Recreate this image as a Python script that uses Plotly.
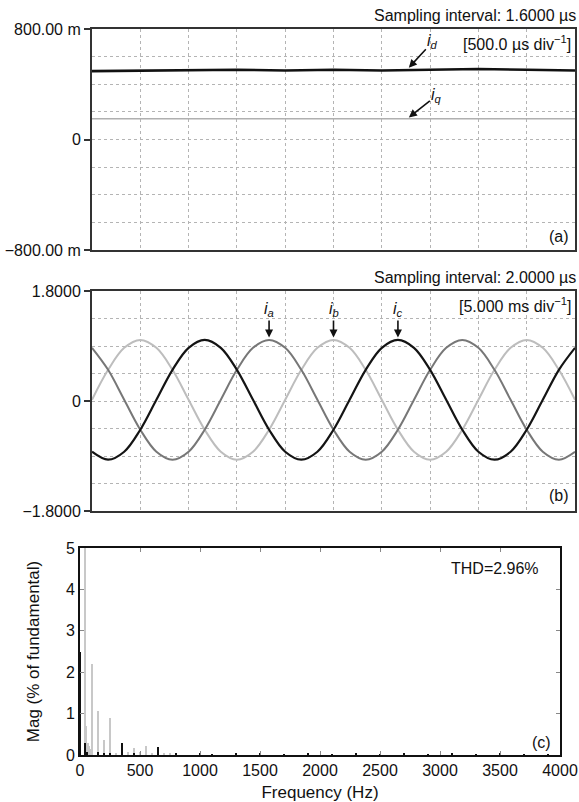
import plotly.graph_objects as go

W, H = 579, 802

# ---------------- data ----------------
# Panel (a): dq currents (A), 500 us/div, 10 divisions (time in ms)
t_a_ms = [0.0, 0.5, 1.0, 1.5, 2.0, 2.5, 3.0, 3.5, 4.0, 4.5, 5.0]
i_d = [0.495, 0.50, 0.50, 0.505, 0.50, 0.505, 0.50, 0.505, 0.51, 0.505, 0.50]
i_q = [0.15, 0.15, 0.145, 0.15, 0.145, 0.15, 0.15, 0.145, 0.145, 0.15, 0.15]

# Panel (b): phase currents (A), 5 ms/div, sampled every 1/3 div
t_b_ms = [round(k * 50 / 30, 4) for k in range(31)]
i_a = [0.87, 0.51, 0.02, -0.47, -0.83, -0.96, -0.83, -0.47, 0.02, 0.51, 0.87, 1.00,
       0.87, 0.51, 0.02, -0.47, -0.83, -0.96, -0.83, -0.47, 0.02, 0.51, 0.87, 1.00,
       0.87, 0.51, 0.02, -0.47, -0.83, -0.96, -0.83]
i_b = [0.02, 0.51, 0.87, 1.00, 0.87, 0.51, 0.02, -0.47, -0.83, -0.96, -0.83, -0.47,
       0.02, 0.51, 0.87, 1.00, 0.87, 0.51, 0.02, -0.47, -0.83, -0.96, -0.83, -0.47,
       0.02, 0.51, 0.87, 1.00, 0.87, 0.51, 0.02]
i_c = [-0.83, -0.96, -0.83, -0.47, 0.02, 0.51, 0.87, 1.00, 0.87, 0.51, 0.02, -0.47,
       -0.83, -0.96, -0.83, -0.47, 0.02, 0.51, 0.87, 1.00, 0.87, 0.51, 0.02, -0.47,
       -0.83, -0.96, -0.83, -0.47, 0.02, 0.51, 0.87]

# Panel (c): harmonic spectrum (% of fundamental)
freq_light = [45, 55, 70, 80, 90, 100, 150, 200, 250, 300, 400, 450, 500, 550, 600, 700, 750]
mag_light = [5.2, 0.7, 0.3, 0.22, 0.15, 2.2, 1.07, 0.37, 0.9, 0.05, 0.08, 0.17, 0.08, 0.22, 0.06, 0.05, 0.03]
freq_dark = [0, 45, 60, 150, 200, 250, 350, 450, 650, 800, 1000, 1100, 1300, 1500, 1700, 1900,
             2100, 2300, 2500, 2700, 2900, 3100, 3300, 3500, 3700, 3900]
mag_dark = [2.5, 0.3, 0.08, 0.08, 0.05, 0.03, 0.28, 0.03, 0.19, 0.03, 0.04, 0.02, 0.03, 0.03, 0.02, 0.03,
            0.02, 0.03, 0.02, 0.03, 0.02, 0.03, 0.02, 0.03, 0.02, 0.02]

y_ticks_a = [-0.8, 0, 0.8]
y_text_a = ["\u2212800.00 m", "0", "800.00 m"]
y_ticks_b = [-1.8, 0, 1.8]
y_text_b = ["\u22121.8000", "0", "1.8000"]

# ---------------- figure ----------------
FONT = "Liberation Sans, Arial, Helvetica, sans-serif"
GRID = "#b4b4b4"
FRAME = "#333333"

def px_x(p):
    return p / W

def px_y(p):
    return 1 - p / H

fig = go.Figure()

fig.add_trace(go.Scatter(x=t_a_ms, y=i_q, mode="lines", line=dict(color="#b0b0b0", width=1.6),
                         xaxis="x", yaxis="y", showlegend=False))
fig.add_trace(go.Scatter(x=t_a_ms, y=i_d, mode="lines", line=dict(color="#111111", width=2.6),
                         xaxis="x", yaxis="y", showlegend=False))

fig.add_trace(go.Scatter(x=t_b_ms, y=i_b, mode="lines", line=dict(color="#bdbdbd", width=2, shape="spline"),
                         xaxis="x2", yaxis="y2", showlegend=False))
fig.add_trace(go.Scatter(x=t_b_ms, y=i_a, mode="lines", line=dict(color="#777777", width=2, shape="spline"),
                         xaxis="x2", yaxis="y2", showlegend=False))
fig.add_trace(go.Scatter(x=t_b_ms, y=i_c, mode="lines", line=dict(color="#141414", width=2.2, shape="spline"),
                         xaxis="x2", yaxis="y2", showlegend=False))

fig.add_trace(go.Bar(x=freq_light, y=mag_light, width=12, marker=dict(color="#c8c8c8", line=dict(width=0)),
                     xaxis="x3", yaxis="y3", showlegend=False))
fig.add_trace(go.Bar(x=freq_dark, y=mag_dark, width=15, marker=dict(color="#111111", line=dict(width=0)),
                     xaxis="x3", yaxis="y3", showlegend=False))

scope_x = dict(showticklabels=False, ticks="", showgrid=True, gridcolor=GRID, griddash="dot", gridwidth=1,
               showline=True, linecolor=FRAME, linewidth=2, mirror=True, zeroline=False, automargin=False)

def scope_y(rng, tv, tt, minor_vals):
    return dict(range=rng, tickmode="array", tickvals=tv, ticktext=tt, ticks="outside", ticklen=6,
                tickwidth=1.5, tickcolor=FRAME, tickfont=dict(size=16, color="#111", family=FONT),
                showgrid=True, gridcolor=GRID, griddash="dot", gridwidth=1,
                minor=dict(tickmode="array", tickvals=minor_vals, showgrid=True, gridcolor=GRID,
                           griddash="dot", gridwidth=1, ticks=""),
                showline=True, linecolor=FRAME, linewidth=2, mirror=True, zeroline=False, automargin=False)

fig.update_layout(
    width=W, height=H, autosize=False,
    margin=dict(l=0, r=0, t=0, b=0),
    paper_bgcolor="white", plot_bgcolor="white",
    barmode="overlay", bargap=0,
    font=dict(family=FONT, color="#111", size=16),
    xaxis=dict(domain=[px_x(92), px_x(575)], range=[0, 5], dtick=0.5, tick0=0, anchor="y", **scope_x),
    yaxis=dict(domain=[px_y(250), px_y(29)], anchor="x",
               **scope_y([-0.8, 0.8], y_ticks_a, y_text_a, [-0.6, -0.4, -0.2, 0.2, 0.4, 0.6])),
    xaxis2=dict(domain=[px_x(92), px_x(575)], range=[0, 50], dtick=5, tick0=0, anchor="y2", **scope_x),
    yaxis2=dict(domain=[px_y(511), px_y(291)], anchor="x2",
                **scope_y([-1.8, 1.8], y_ticks_b, y_text_b, [-1.35, -0.9, -0.45, 0.45, 0.9, 1.35])),
    xaxis3=dict(domain=[px_x(80), px_x(560)], range=[0, 4000], dtick=500, tick0=0, anchor="y3",
                ticks="inside", ticklen=4, tickcolor="#888", showline=True, linecolor="#111", linewidth=2,
                mirror="ticks", showgrid=False, zeroline=False, automargin=False,
                tickfont=dict(size=16, family=FONT, color="#111"),
                title=dict(text="Frequency (Hz)", font=dict(size=17, family=FONT, color="#111"), standoff=8)),
    yaxis3=dict(domain=[px_y(755), px_y(548)], range=[0, 5], dtick=1, tick0=0, anchor="x3",
                ticks="inside", ticklen=4, tickcolor="#888", showline=True, linecolor="#111", linewidth=2,
                mirror="ticks", showgrid=False, zeroline=False, automargin=False,
                tickfont=dict(size=16, family=FONT, color="#111"),
                title=dict(text="Mag (% of fundamental)", font=dict(size=17, family=FONT, color="#111"),
                           standoff=22)),
)

def ptext(text, xp, yp, size=16, xanchor="right"):
    fig.add_annotation(text=text, x=px_x(xp), y=px_y(yp), xref="paper", yref="paper",
                       xanchor=xanchor, yanchor="middle", showarrow=False,
                       font=dict(size=size, family=FONT, color="#111"))

ptext("Sampling interval: 1.6000 \u00b5s", 578, 15)
ptext("[500.0 \u00b5s div<sup>\u22121</sup>]", 573, 43)
ptext("(a)", 571, 236)
ptext("Sampling interval: 2.0000 \u00b5s", 578, 277)
ptext("[5.000 ms div<sup>\u22121</sup>]", 573, 305)
ptext("(b)", 571, 495)
ptext("THD=2.96%", 541, 568)
ptext("(c)", 553, 742)

def arrow(text, x, y, ax, ay, xref, yref):
    fig.add_annotation(text=text, x=x, y=y, xref=xref, yref=yref, ax=ax, ay=ay,
                       showarrow=True, arrowhead=2, arrowsize=1, arrowwidth=1.6, arrowcolor="#111",
                       font=dict(size=16, family=FONT, color="#111"))

arrow("<i>i<sub>d</sub></i>", 3.28, 0.52, 24, -26, "x", "y")
arrow("<i>i<sub>q</sub></i>", 3.28, 0.16, 28, -22, "x", "y")
arrow("<i>i<sub>a</sub></i>", 18.33, 1.04, 0, -28, "x2", "y2")
arrow("<i>i<sub>b</sub></i>", 25.0, 1.04, 0, -28, "x2", "y2")
arrow("<i>i<sub>c</sub></i>", 31.67, 1.04, 0, -28, "x2", "y2")

fig.write_html(
    "out.html",
    config={"displayModeBar": False, "displaylogo": False},
    post_script="document.body.style.margin='0';document.body.style.padding='0';"
                "document.documentElement.style.overflow='hidden';document.body.style.overflow='hidden';",
)
